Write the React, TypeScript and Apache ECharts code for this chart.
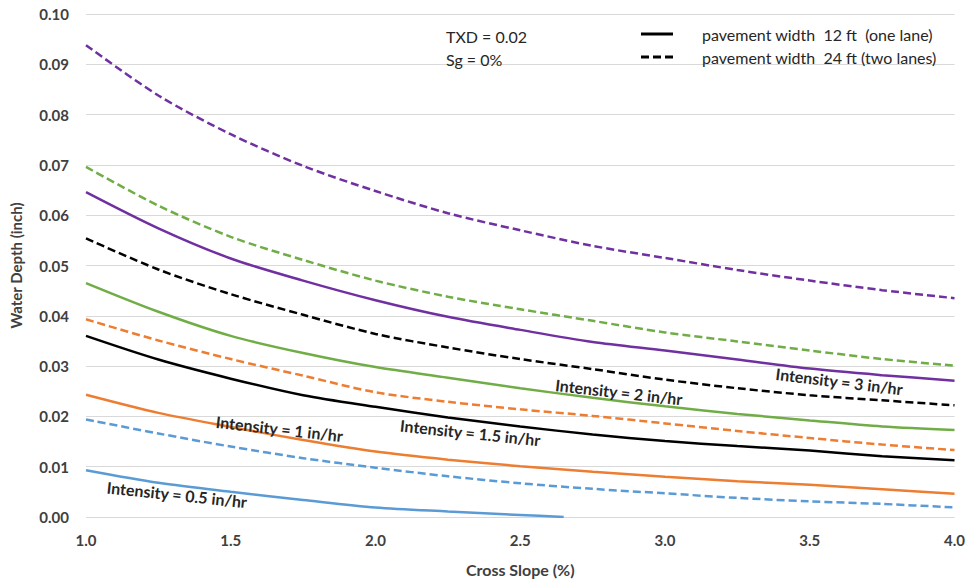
import React, { useEffect, useRef } from "react";
import * as echarts from "echarts";

// Cross slope (%) sample points
const slopes = [1.0, 1.25, 1.5, 1.75, 2.0, 2.25, 2.5, 2.75, 3.0, 3.25, 3.5, 3.75, 4.0];

// Water depth (inch), pavement width 24 ft (two lanes) - dashed
const i3_24 = [0.0938, 0.0838, 0.0761, 0.0698, 0.0648, 0.0604, 0.057, 0.0539, 0.0515, 0.0491, 0.047, 0.0451, 0.0435];
const i2_24 = [0.0696, 0.0619, 0.0557, 0.0511, 0.047, 0.0438, 0.0413, 0.039, 0.0367, 0.0349, 0.0331, 0.0314, 0.0301];
const i15_24 = [0.0554, 0.0492, 0.0443, 0.0402, 0.0364, 0.0337, 0.0314, 0.0294, 0.0273, 0.0256, 0.0242, 0.0232, 0.0222];
const i1_24 = [0.0393, 0.0351, 0.0314, 0.0281, 0.0248, 0.0229, 0.0214, 0.0201, 0.0186, 0.0171, 0.0157, 0.0144, 0.0133];
const i05_24 = [0.0194, 0.0166, 0.014, 0.0117, 0.0098, 0.0081, 0.0067, 0.0056, 0.0047, 0.0038, 0.0031, 0.0026, 0.0019];

// Water depth (inch), pavement width 12 ft (one lane) - solid
const i3_12 = [0.0646, 0.0574, 0.0514, 0.047, 0.0431, 0.0398, 0.0372, 0.0348, 0.0331, 0.0313, 0.0295, 0.0282, 0.0271];
const i2_12 = [0.0465, 0.0408, 0.036, 0.0326, 0.0298, 0.0277, 0.0256, 0.0237, 0.022, 0.0205, 0.0192, 0.018, 0.0173];
const i15_12 = [0.036, 0.0313, 0.0275, 0.0242, 0.0219, 0.0198, 0.018, 0.0164, 0.0151, 0.0141, 0.0132, 0.0121, 0.0113];
const i1_12 = [0.0243, 0.0207, 0.0179, 0.0153, 0.013, 0.0114, 0.0101, 0.009, 0.008, 0.0071, 0.0064, 0.0055, 0.0046];
const i05_12_slopes = [1.0, 1.25, 1.5, 1.75, 2.0, 2.25, 2.5, 2.65];
const i05_12 = [0.0093, 0.0068, 0.005, 0.0034, 0.0019, 0.0011, 0.0004, 0.0];

const xTicks = { min: 1, max: 4, interval: 0.5 };
const yTicks = { min: 0, max: 0.1, interval: 0.01 };

const labelItems = [
  { text: "Intensity = 0.5 in/hr", x: 1.314, y: 0.0045, angle: -6 },
  { text: "Intensity = 1 in/hr", x: 1.668, y: 0.0176, angle: -6.5 },
  { text: "Intensity = 1.5 in/hr", x: 2.327, y: 0.0168, angle: -6 },
  { text: "Intensity = 2 in/hr", x: 2.841, y: 0.0249, angle: -6.5 },
  { text: "Intensity = 3 in/hr", x: 3.602, y: 0.027, angle: -7 },
];

const legendItems = [
  { text: "pavement width  12 ft  (one lane)", dashed: false },
  { text: "pavement width  24 ft (two lanes)", dashed: true },
];
const noteItems = ["TXD = 0.02", "Sg = 0%"];

const PURPLE = "#7030A0";
const GREEN = "#70AD47";
const BLACK = "#000000";
const ORANGE = "#ED7D31";
const BLUE = "#5B9BD5";
const DASH = [8, 4];
const FONT = "Lato";

export default function App() {
  const ref = useRef<HTMLDivElement>(null);

  useEffect(() => {
    if (!ref.current) return;
    const chart = echarts.init(ref.current, null, { renderer: "svg" });

    const pair = (xs: number[], ys: number[]) => xs.map((x, i) => [x, ys[i]]);
    const mk = (name: string, xs: number[], ys: number[], color: string, dashed: boolean) => ({
      type: "line",
      name,
      data: pair(xs, ys),
      smooth: 0.3,
      symbol: "none",
      lineStyle: { color, width: 2.5, type: dashed ? DASH : "solid", cap: "butt" },
      itemStyle: { color },
      z: 3,
    });

    chart.setOption({
      animation: false,
      backgroundColor: "#ffffff",
      grid: { left: 80, right: 8, top: 14, bottom: 66 },
      xAxis: {
        type: "value",
        min: xTicks.min,
        max: xTicks.max,
        interval: xTicks.interval,
        name: "Cross Slope (%)",
        nameLocation: "middle",
        nameGap: 44,
        nameTextStyle: { fontFamily: FONT, fontWeight: "bold", fontSize: 16, color: "#404040" },
        axisLine: { show: false },
        axisTick: { show: false },
        splitLine: { show: false },
        axisLabel: {
          margin: 15,
          fontFamily: FONT,
          fontWeight: "bold",
          fontSize: 15,
          color: "#404040",
          formatter: (v: number) => v.toFixed(1),
        },
      },
      yAxis: {
        type: "value",
        min: yTicks.min,
        max: yTicks.max,
        interval: yTicks.interval,
        name: "Water Depth (inch)",
        nameLocation: "middle",
        nameGap: 63,
        nameTextStyle: { fontFamily: FONT, fontWeight: "bold", fontSize: 15, color: "#404040" },
        axisLine: { show: false },
        axisTick: { show: false },
        splitLine: { lineStyle: { color: "#d9d9d9", width: 1.2 } },
        axisLabel: {
          margin: 17,
          fontFamily: FONT,
          fontWeight: "bold",
          fontSize: 15,
          color: "#404040",
          formatter: (v: number) => v.toFixed(2),
        },
      },
      series: [
        mk("3 in/hr 24 ft", slopes, i3_24, PURPLE, true),
        mk("2 in/hr 24 ft", slopes, i2_24, GREEN, true),
        mk("1.5 in/hr 24 ft", slopes, i15_24, BLACK, true),
        mk("1 in/hr 24 ft", slopes, i1_24, ORANGE, true),
        mk("0.5 in/hr 24 ft", slopes, i05_24, BLUE, true),
        mk("3 in/hr 12 ft", slopes, i3_12, PURPLE, false),
        mk("2 in/hr 12 ft", slopes, i2_12, GREEN, false),
        mk("1.5 in/hr 12 ft", slopes, i15_12, BLACK, false),
        mk("1 in/hr 12 ft", slopes, i1_12, ORANGE, false),
        mk("0.5 in/hr 12 ft", i05_12_slopes, i05_12, BLUE, false),
      ],
    });

    const graphics: any[] = [];
    labelItems.forEach((l) => {
      const p = chart.convertToPixel({ gridIndex: 0 }, [l.x, l.y]) as number[];
      graphics.push({
        type: "text",
        x: p[0],
        y: p[1],
        rotation: (l.angle * Math.PI) / 180,
        z: 10,
        style: {
          text: l.text,
          fontFamily: FONT,
          fontWeight: "bold",
          fontSize: 16,
          fill: "#262626",
          align: "center",
          verticalAlign: "middle",
        },
      });
    });
    noteItems.forEach((t, i) => {
      graphics.push({
        type: "text",
        x: 446,
        y: 36 + i * 23,
        z: 10,
        style: { text: t, fontFamily: FONT, fontSize: 16, fill: "#262626", align: "left", verticalAlign: "middle" },
      });
    });
    legendItems.forEach((l, i) => {
      const y = 34 + i * 23;
      graphics.push({
        type: "line",
        z: 10,
        shape: { x1: 641, y1: y, x2: 673, y2: y },
        style: { stroke: "#000", lineWidth: 3, lineDash: l.dashed ? DASH : null },
      });
      graphics.push({
        type: "text",
        x: 702,
        y,
        z: 10,
        style: { text: l.text, fontFamily: FONT, fontSize: 16, fill: "#262626", align: "left", verticalAlign: "middle" },
      });
    });
    chart.setOption({ graphic: graphics });

    return () => chart.dispose();
  }, []);

  return (
    <div
      ref={ref}
      style={{ position: "fixed", left: 0, top: 0, width: 968, height: 583, background: "#fff" }}
    />
  );
}
